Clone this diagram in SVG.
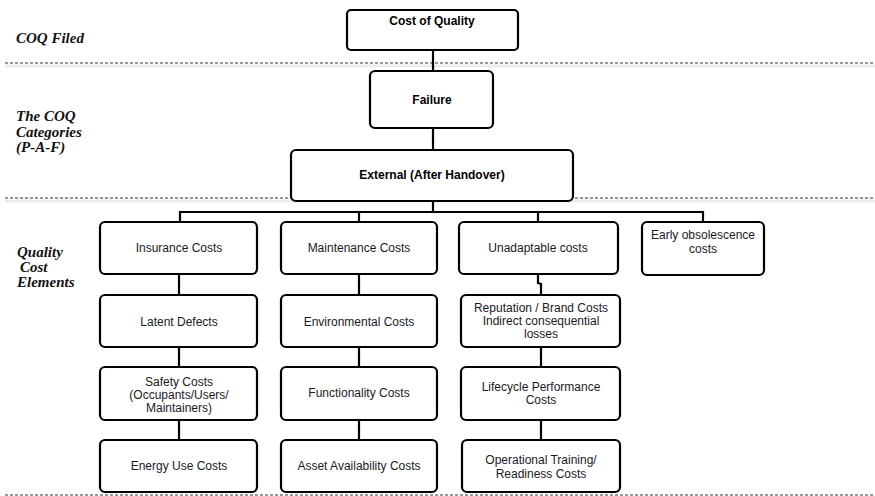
<svg xmlns="http://www.w3.org/2000/svg" width="875" height="496" viewBox="0 0 875 496">
<style>
.bx{fill:#fff;stroke:#000;stroke-width:2.2}
.t{font-family:"Liberation Sans",Arial,sans-serif;font-size:12px;fill:#1a1a24;text-anchor:middle}
.b{font-weight:bold;fill:#000}
.lab{font-family:"Liberation Serif","Times New Roman",serif;font-style:italic;font-weight:bold;font-size:15px;fill:#111}
.dash{stroke:#333;stroke-width:1;stroke-dasharray:3 2;fill:none}
.sh{stroke:#ececec;stroke-width:3;fill:none}
.c{stroke:#000;stroke-width:2.2;fill:none}
</style>
<rect width="875" height="496" fill="#fff"/>
<g id="separators">
<line class="sh" x1="5" y1="66" x2="875" y2="66"/>
<line class="dash" x1="5" y1="63" x2="875" y2="63"/>
<line class="sh" x1="5" y1="201" x2="875" y2="201"/>
<line class="dash" x1="5" y1="198" x2="875" y2="198"/>
<line class="dash" x1="5" y1="495" x2="875" y2="495" stroke="#888"/>
</g>
<g id="labels">
<text class="lab" x="16" y="43">COQ Filed</text>
<text class="lab" x="16" y="121">The COQ</text>
<text class="lab" x="16" y="137">Categories</text>
<text class="lab" x="16" y="152">(P-A-F)</text>
<text class="lab" x="17" y="257">Quality</text>
<text class="lab" x="20" y="272">Cost</text>
<text class="lab" x="17" y="287">Elements</text>
</g>
<g id="connectors">
<line class="c" x1="433" y1="50" x2="433" y2="71"/>
<line class="c" x1="433" y1="128" x2="433" y2="150"/>
<line class="c" x1="433" y1="201" x2="433" y2="212"/>
<polyline class="c" points="180,222 180,212 703,212 703,222"/>
<line class="c" x1="359" y1="212" x2="359" y2="222"/>
<line class="c" x1="538" y1="212" x2="538" y2="222"/>
<line class="c" x1="179" y1="274" x2="179" y2="295"/>
<line class="c" x1="179" y1="347" x2="179" y2="367"/>
<line class="c" x1="179" y1="420" x2="179" y2="440"/>
<line class="c" x1="359" y1="274" x2="359" y2="295"/>
<line class="c" x1="359" y1="347" x2="359" y2="367"/>
<line class="c" x1="359" y1="420" x2="359" y2="440"/>
<polyline class="c" points="538,274 538,283 541,284 541,295"/>
<line class="c" x1="541" y1="347" x2="541" y2="367"/>
<line class="c" x1="541" y1="420" x2="541" y2="440"/>
</g>
<g id="n-coq"><rect class="bx" x="347" y="10" width="171" height="40" rx="4"/><text class="t b" x="432" y="25">Cost of Quality</text></g>
<g id="n-failure"><rect class="bx" x="370" y="71" width="123" height="57" rx="5"/><text class="t b" x="432" y="104">Failure</text></g>
<g id="n-external"><rect class="bx" x="291" y="150" width="282" height="51" rx="5"/><text class="t b" x="432" y="179">External (After Handover)</text></g>
<g id="n-insurance"><rect class="bx" x="100" y="222" width="157" height="52" rx="5"/><text class="t" x="179" y="252">Insurance Costs</text></g>
<g id="n-maintenance"><rect class="bx" x="281" y="222" width="156" height="52" rx="5"/><text class="t" x="359" y="252">Maintenance Costs</text></g>
<g id="n-unadaptable"><rect class="bx" x="459" y="222" width="159" height="52" rx="5"/><text class="t" x="538" y="252">Unadaptable costs</text></g>
<g id="n-early"><rect class="bx" x="642" y="222" width="122" height="53" rx="5"/><text class="t" x="703" y="239">Early obsolescence</text><text class="t" x="703" y="253">costs</text></g>
<g id="n-latent"><rect class="bx" x="100" y="295" width="157" height="52" rx="5"/><text class="t" x="179" y="326">Latent Defects</text></g>
<g id="n-environmental"><rect class="bx" x="281" y="295" width="156" height="52" rx="5"/><text class="t" x="359" y="326">Environmental Costs</text></g>
<g id="n-reputation"><rect class="bx" x="461" y="295" width="159" height="52" rx="5"/><text class="t" x="541" y="312">Reputation / Brand Costs</text><text class="t" x="541" y="325">Indirect consequential</text><text class="t" x="541" y="338">losses</text></g>
<g id="n-safety"><rect class="bx" x="100" y="367" width="157" height="53" rx="5"/><text class="t" x="179" y="386">Safety Costs</text><text class="t" x="179" y="399">(Occupants/Users/</text><text class="t" x="179" y="412">Maintainers)</text></g>
<g id="n-functionality"><rect class="bx" x="281" y="367" width="156" height="53" rx="5"/><text class="t" x="359" y="397">Functionality Costs</text></g>
<g id="n-lifecycle"><rect class="bx" x="461" y="367" width="159" height="53" rx="5"/><text class="t" x="541" y="391">Lifecycle Performance</text><text class="t" x="541" y="404">Costs</text></g>
<g id="n-energy"><rect class="bx" x="100" y="440" width="157" height="52" rx="5"/><text class="t" x="179" y="470">Energy Use Costs</text></g>
<g id="n-asset"><rect class="bx" x="281" y="440" width="156" height="52" rx="5"/><text class="t" x="359" y="470">Asset Availability Costs</text></g>
<g id="n-operational"><rect class="bx" x="462" y="440" width="158" height="52" rx="5"/><text class="t" x="541" y="464">Operational Training/</text><text class="t" x="541" y="478">Readiness Costs</text></g>
</svg>
